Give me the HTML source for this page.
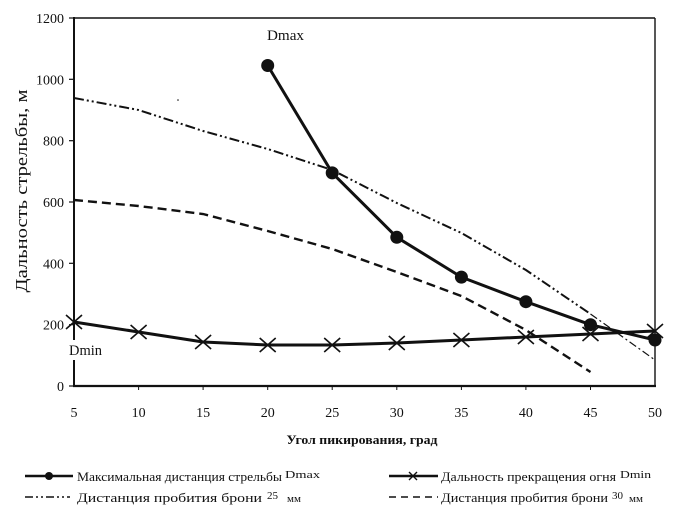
<!DOCTYPE html>
<html><head><meta charset="utf-8"><style>
html,body{margin:0;padding:0;background:#fff;}
svg{display:block;}
text{font-family:"Liberation Serif","DejaVu Serif",serif;fill:#111;}
</style></head><body>
<svg width="676" height="513" viewBox="0 0 676 513" xmlns="http://www.w3.org/2000/svg">
<rect width="676" height="513" fill="#fff"/>
<!-- frame -->
<line x1="74" y1="18" x2="655" y2="18" stroke="#111" stroke-width="1.6"/>
<line x1="655" y1="18" x2="655" y2="386" stroke="#111" stroke-width="1.4"/>
<line x1="74" y1="17" x2="74" y2="387" stroke="#111" stroke-width="2"/>
<line x1="73" y1="386" x2="656" y2="386" stroke="#111" stroke-width="2.2"/>
<!-- y ticks -->
<g stroke="#111" stroke-width="1.2">
<line x1="69" y1="386" x2="74" y2="386"/><line x1="69" y1="324.7" x2="74" y2="324.7"/>
<line x1="69" y1="263.3" x2="74" y2="263.3"/><line x1="69" y1="202" x2="74" y2="202"/>
<line x1="69" y1="140.7" x2="74" y2="140.7"/><line x1="69" y1="79.3" x2="74" y2="79.3"/>
<line x1="69" y1="18" x2="74" y2="18"/>
</g>
<g font-size="14" text-anchor="end">
<text x="64" y="391">0</text><text x="64" y="329.7">200</text><text x="64" y="268.3">400</text>
<text x="64" y="207">600</text><text x="64" y="145.7">800</text><text x="64" y="84.3">1000</text>
<text x="64" y="23">1200</text>
</g>
<!-- x ticks -->
<g stroke="#111" stroke-width="1">
<line x1="138.6" y1="386" x2="138.6" y2="390"/><line x1="203.1" y1="386" x2="203.1" y2="390"/>
<line x1="267.7" y1="386" x2="267.7" y2="390"/><line x1="332.2" y1="386" x2="332.2" y2="390"/>
<line x1="396.8" y1="386" x2="396.8" y2="390"/><line x1="461.4" y1="386" x2="461.4" y2="390"/>
<line x1="525.9" y1="386" x2="525.9" y2="390"/><line x1="590.5" y1="386" x2="590.5" y2="390"/>
</g>
<g font-size="14" text-anchor="middle">
<text x="74" y="417">5</text><text x="138.6" y="417">10</text><text x="203.1" y="417">15</text>
<text x="267.7" y="417">20</text><text x="332.2" y="417">25</text><text x="396.8" y="417">30</text>
<text x="461.4" y="417">35</text><text x="525.9" y="417">40</text><text x="590.5" y="417">45</text>
<text x="655" y="417">50</text>
</g>
<!-- axis labels -->
<text x="362" y="444" font-size="13" font-weight="bold" text-anchor="middle" textLength="151" lengthAdjust="spacingAndGlyphs">Угол пикирования, град</text>
<text transform="translate(27,191) rotate(-90)" font-size="17" text-anchor="middle" textLength="203" lengthAdjust="spacingAndGlyphs">Дальность стрельбы, м</text>
<!-- 30mm dashed -->
<polyline points="74,200 138.6,206 203.1,214 267.7,231 332.2,249 396.8,272 461.4,296 525.9,330 590.5,372" fill="none" stroke="#111" stroke-width="2.4" stroke-dasharray="9,5"/>
<!-- 25mm dash-dot-dot -->
<polyline points="74,98 138.6,110 203.1,131 267.7,149 332.2,170 396.8,203 461.4,233 525.9,270 590.5,314" fill="none" stroke="#111" stroke-width="2" stroke-dasharray="10,3,2,3,2,3"/>
<polyline points="590.5,314 620,335 655,360" fill="none" stroke="#111" stroke-width="1.2" stroke-dasharray="8,3,2,3"/>
<!-- Dmin -->
<polyline points="74,322 138.6,332 203.1,342 267.7,345 332.2,345 396.8,343 461.4,340 525.9,337 590.5,334 655,331" fill="none" stroke="#111" stroke-width="3" stroke-linejoin="round"/>
<g stroke="#111" stroke-width="1.6">
<path d="M66,315 L82,329 M66,329 L82,315"/>
<path d="M130.6,325 L146.6,339 M130.6,339 L146.6,325"/>
<path d="M195.1,335 L211.1,349 M195.1,349 L211.1,335"/>
<path d="M259.7,338 L275.7,352 M259.7,352 L275.7,338"/>
<path d="M324.2,338 L340.2,352 M324.2,352 L340.2,338"/>
<path d="M388.8,336 L404.8,350 M388.8,350 L404.8,336"/>
<path d="M453.4,333 L469.4,347 M453.4,347 L469.4,333"/>
<path d="M517.9,330 L533.9,344 M517.9,344 L533.9,330"/>
<path d="M582.5,327 L598.5,341 M582.5,341 L598.5,327"/>
<path d="M647,324 L663,338 M647,338 L663,324"/>
</g>
<!-- Dmax -->
<polyline points="267.7,65.5 332.2,172.9 396.8,237.3 461.4,277.1 525.9,301.7 590.5,324.7 655,340" fill="none" stroke="#111" stroke-width="3" stroke-linejoin="round"/>
<g fill="#111">
<circle cx="267.7" cy="65.5" r="6.5"/><circle cx="332.2" cy="172.9" r="6.5"/>
<circle cx="396.8" cy="237.3" r="6.5"/><circle cx="461.4" cy="277.1" r="6.5"/>
<circle cx="525.9" cy="301.7" r="6.5"/><circle cx="590.5" cy="324.7" r="6.5"/>
<circle cx="655" cy="340" r="6.5"/>
<circle cx="178" cy="100" r="0.8"/>
</g>
<!-- labels -->
<text x="267" y="40" font-size="15" textLength="37" lengthAdjust="spacingAndGlyphs">Dmax</text>
<rect x="67" y="340" width="37" height="20" fill="#fff"/>
<text x="69" y="355" font-size="14.5" textLength="33" lengthAdjust="spacingAndGlyphs">Dmin</text>
<!-- legend -->
<line x1="25" y1="476" x2="73" y2="476" stroke="#111" stroke-width="2.6"/>
<circle cx="49" cy="476" r="4" fill="#111"/>
<text x="77" y="481" font-size="13" textLength="205" lengthAdjust="spacingAndGlyphs">Максимальная дистанция стрельбы</text>
<text x="285" y="478" font-size="11" textLength="35" lengthAdjust="spacingAndGlyphs">Dmax</text>
<line x1="25" y1="497" x2="70" y2="497" stroke="#111" stroke-width="1.6" stroke-dasharray="8,3,2,3,2,3"/>
<text x="77" y="502" font-size="13" textLength="185" lengthAdjust="spacingAndGlyphs">Дистанция пробития брони</text>
<text x="267" y="499" font-size="11">25</text>
<text x="287" y="502" font-size="11">мм</text>
<line x1="389" y1="476" x2="438" y2="476" stroke="#111" stroke-width="2.6"/>
<path d="M409,472 L417,480 M409,480 L417,472" stroke="#111" stroke-width="1.4"/>
<text x="441" y="481" font-size="13" textLength="175" lengthAdjust="spacingAndGlyphs">Дальность прекращения огня</text>
<text x="620" y="478" font-size="11" textLength="31" lengthAdjust="spacingAndGlyphs">Dmin</text>
<line x1="389" y1="497" x2="438" y2="497" stroke="#111" stroke-width="1.6" stroke-dasharray="7,5"/>
<text x="441" y="502" font-size="13" textLength="167" lengthAdjust="spacingAndGlyphs">Дистанция пробития брони</text>
<text x="612" y="499" font-size="11">30</text>
<text x="629" y="502" font-size="11">мм</text>
</svg>
</body></html>
